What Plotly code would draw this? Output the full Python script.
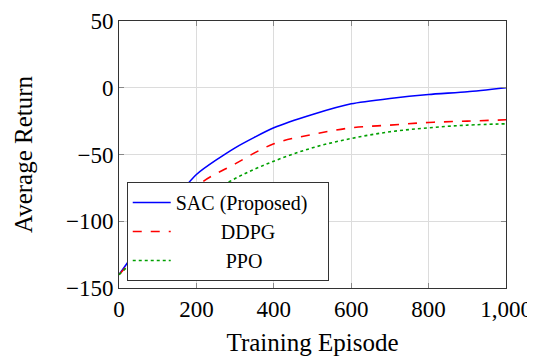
import plotly.graph_objects as go

episodes = [0, 100, 200, 300, 400, 500, 600, 700, 800, 900, 1000]
sac = [-140, -100, -65, -45, -30, -20, -12, -8, -5, -3, 0]
ddpg = [-140, -108, -74, -57, -42, -35, -30, -28, -26, -25, -24]
ppo = [-140, -113, -86, -68, -55, -45, -38, -33, -30, -28, -27]

nb = "\u00a0"
names = ["SAC (Proposed)" + nb * 3, nb * 9 + "DDPG", nb * 10 + "PPO"]

font = "Liberation Serif, Times New Roman, serif"

fig = go.Figure()
fig.add_trace(go.Scatter(x=episodes, y=sac, mode="lines", name=names[0],
                         line=dict(color="#0000ff", width=1.6, shape="spline", smoothing=0.6)))
fig.add_trace(go.Scatter(x=episodes, y=ddpg, mode="lines", name=names[1],
                         line=dict(color="#ff0000", width=1.6, dash="dash", shape="spline")))
fig.add_trace(go.Scatter(x=episodes, y=ppo, mode="lines", name=names[2],
                         line=dict(color="#00a000", width=1.6, dash="dot", shape="spline")))

axis_common = dict(showline=True, linecolor="#333", linewidth=1, mirror="ticks",
                   ticks="inside", ticklen=5, tickcolor="#888", showgrid=True,
                   gridcolor="#dcdcdc", gridwidth=1, zeroline=False, automargin=False,
                   tickfont=dict(family=font, size=23, color="black"))

fig.update_xaxes(range=[0, 1000], tickvals=[0, 200, 400, 600, 800, 1000], tickformat=",",
                 title=dict(text="Training Episode", font=dict(family=font, size=25, color="black"),
                            standoff=12), **axis_common)
fig.update_yaxes(range=[-150, 50], tickvals=[-150, -100, -50, 0, 50],
                 title=dict(text="Average Return", font=dict(family=font, size=25, color="black"),
                            standoff=26), **axis_common)

# page body has an 8px margin, so the figure is offset by 8px
fig.update_layout(
    width=527, height=350,
    margin=dict(l=111, r=29, t=13, b=70),
    paper_bgcolor="white", plot_bgcolor="white",
    font=dict(family=font, color="black"),
    legend=dict(x=0.02, y=0.026, xanchor="left", yanchor="bottom",
                bgcolor="white", bordercolor="#333", borderwidth=1,
                font=dict(family=font, size=20, color="black"),
                tracegroupgap=0, itemwidth=38),
    showlegend=True,
)

fig.write_html("out.html")
